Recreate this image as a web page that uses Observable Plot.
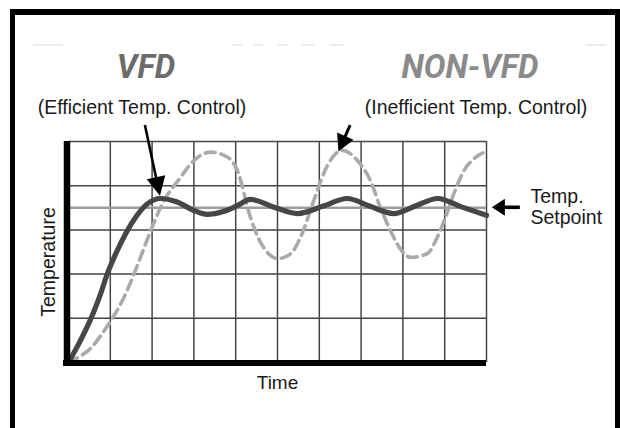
<!DOCTYPE html>
<html><head><meta charset="utf-8">
<script src="https://cdn.jsdelivr.net/npm/d3@7"></script>
<script src="https://cdn.jsdelivr.net/npm/@observablehq/plot@0.6"></script>
<style>
html,body{margin:0;padding:0;background:#fff;}
#wrap{position:relative;width:620px;height:428px;overflow:hidden;background:#fff;}
#frame{position:absolute;left:10px;top:9px;width:600px;height:440px;border-top:6px solid #000;border-left:5px solid #000;border-right:5px solid #000;box-sizing:content-box;}
.t{position:absolute;white-space:nowrap;transform:translateX(-50%);}
.big{font-family:Roboto,sans-serif;font-weight:700;font-style:italic;font-size:32.5px;line-height:32px;}
.sub{font-family:"Liberation Sans",Arial,sans-serif;font-size:19.5px;line-height:20px;color:#1a1a1a;}
.dash{position:absolute;top:44px;height:2px;background:#ececec;}
#chart{position:absolute;left:0;top:0;}
</style></head>
<body>
<div id="wrap">
  <div id="frame"></div>
  <div class="dash" style="left:33px;width:30px"></div>
  <div class="dash" style="left:232px;width:10px"></div>
  <div class="dash" style="left:254px;width:9px"></div>
  <div class="dash" style="left:278px;width:10px"></div>
  <div class="dash" style="left:302px;width:12px"></div>
  <div class="dash" style="left:330px;width:14px"></div>
  <div class="dash" style="left:586px;width:20px"></div>
  <div class="t big" style="left:146px;top:51px;color:#6c6c6c">VFD</div>
  <div class="t big" style="left:470px;top:51px;color:#8a8a8a">NON-VFD</div>
  <div class="t sub" style="left:142px;top:97px">(Efficient Temp. Control)</div>
  <div class="t sub" style="left:476px;top:97px">(Inefficient Temp. Control)</div>
  <div id="chart"></div>
</div>
<script>
// grid ticks
const timeTicks = [0, 1, 2, 3, 4, 5, 6, 7, 8, 9, 10];
const tempTicks = [0, 1, 2, 3, 4, 5];
const setpoint = 3.5;

// VFD (solid) curve
const vfdTime = [0, 0.33, 0.57, 0.77, 0.93, 1.13, 1.37, 1.61, 1.89, 2.2, 2.6, 3.0, 3.32, 3.72, 4.04, 4.35, 4.9, 5.48, 6.1, 6.67, 7.2, 7.78, 8.3, 8.83, 9.4, 10];
const vfdTemp = [0, 0.58, 1.07, 1.56, 2.01, 2.46, 2.92, 3.29, 3.59, 3.71, 3.63, 3.44, 3.35, 3.42, 3.55, 3.69, 3.52, 3.37, 3.54, 3.71, 3.54, 3.37, 3.54, 3.71, 3.52, 3.33];

// NON-VFD (dashed) curve
const nonTime = [0, 0.26, 0.53, 0.81, 1.05, 1.33, 1.57, 1.77, 1.97, 2.24, 2.68, 3.0, 3.4, 3.8, 4.04, 4.35, 4.55, 4.75, 5.0, 5.3, 5.55, 5.87, 6.19, 6.55, 6.91, 7.22, 7.46, 7.7, 7.94, 8.18, 8.58, 8.82, 9.02, 9.22, 9.46, 9.7, 10];
const nonTemp = [0, 0.13, 0.32, 0.66, 1.0, 1.48, 2.01, 2.5, 2.99, 3.58, 4.19, 4.57, 4.76, 4.65, 4.34, 3.29, 2.8, 2.5, 2.35, 2.45, 2.83, 3.67, 4.45, 4.8, 4.57, 4.12, 3.51, 2.99, 2.57, 2.38, 2.46, 2.83, 3.29, 3.82, 4.34, 4.61, 4.78];

// annotation arrows (data units)
const arrowName  = ["VFD", "NON-VFD", "Setpoint"];
const arrowTailX = [1.84, 6.75, 10.81];
const arrowTailY = [5.36, 5.36, setpoint];
const arrowTipX  = [2.20, 6.47, 10.14];
const arrowTipY  = [3.76, 4.76, setpoint];

const axisLabels = ["Time", "Temperature"];
const setpointLabel = "Temp.\nSetpoint";

const vfd = vfdTime.map((t, i) => ({time: t, temp: vfdTemp[i]}));
const non = nonTime.map((t, i) => ({time: t, temp: nonTemp[i]}));

const headLen = [19, 17, 13];
const headHalf = [9.5, 9, 8.5];
const shaftW = [2.6, 3, 3.6];

function arrows(index, scales) {
  const g = d3.create("svg:g");
  for (let i = 0; i < arrowName.length; i++) {
    const x1 = scales.x(arrowTailX[i]), y1 = scales.y(arrowTailY[i]);
    const x2 = scales.x(arrowTipX[i]), y2 = scales.y(arrowTipY[i]);
    const dx = x2 - x1, dy = y2 - y1, L = Math.hypot(dx, dy), ux = dx / L, uy = dy / L;
    const bx = x2 - ux * headLen[i], by = y2 - uy * headLen[i];
    g.append("line").attr("x1", x1).attr("y1", y1).attr("x2", bx + ux * 2).attr("y2", by + uy * 2)
      .attr("stroke", "#000").attr("stroke-width", shaftW[i]);
    g.append("path")
      .attr("d", `M${x2},${y2}L${bx - uy * headHalf[i]},${by + ux * headHalf[i]}L${bx + uy * headHalf[i]},${by - ux * headHalf[i]}Z`)
      .attr("fill", "#000");
  }
  return g.node();
}

const font = "'Liberation Sans', Arial, sans-serif";

const chart = Plot.plot({
  width: 620,
  height: 428,
  marginLeft: 68,
  marginRight: 134,
  marginTop: 141,
  marginBottom: 66,
  style: {background: "transparent", fontFamily: font, overflow: "visible"},
  x: {domain: [0, 10], axis: null},
  y: {domain: [0, 5], axis: null},
  marks: [
    Plot.ruleX(timeTicks.slice(1), {stroke: "#444", strokeWidth: 1.5}),
    Plot.ruleY(tempTicks.slice(1), {stroke: "#444", strokeWidth: 1.5}),
    Plot.ruleY([setpoint], {stroke: "#9c9c9c", strokeWidth: 2.4}),
    Plot.line(non, {x: "time", y: "temp", curve: "monotone-x", stroke: "#aaaaaa", strokeWidth: 3.6, strokeDasharray: "10,6"}),
    Plot.line(vfd, {x: "time", y: "temp", curve: "monotone-x", stroke: "#464646", strokeWidth: 5.2, strokeLinecap: "round"}),
    Plot.ruleX([0], {stroke: "#000", strokeWidth: 6.5, dx: -1.5, insetBottom: -3}),
    Plot.ruleY([0], {stroke: "#000", strokeWidth: 6, dy: 0.5, insetLeft: -5}),
    arrows,
    Plot.text([axisLabels[0]], {frameAnchor: "bottom", lineAnchor: "middle", dy: 20, fontSize: 19, fill: "#1a1a1a"}),
    Plot.text([axisLabels[1]], {frameAnchor: "left", textAnchor: "middle", lineAnchor: "middle", rotate: -90, dx: -20, dy: 10, fontSize: 19.5, fill: "#1a1a1a"}),
    Plot.text([setpointLabel], {frameAnchor: "right", y: [setpoint], dx: 44, dy: -1.5, textAnchor: "start", lineAnchor: "middle", lineHeight: 1.08, fontSize: 19.5, fill: "#1a1a1a"})
  ]
});
document.getElementById("chart").appendChild(chart);
</script>
</body></html>
